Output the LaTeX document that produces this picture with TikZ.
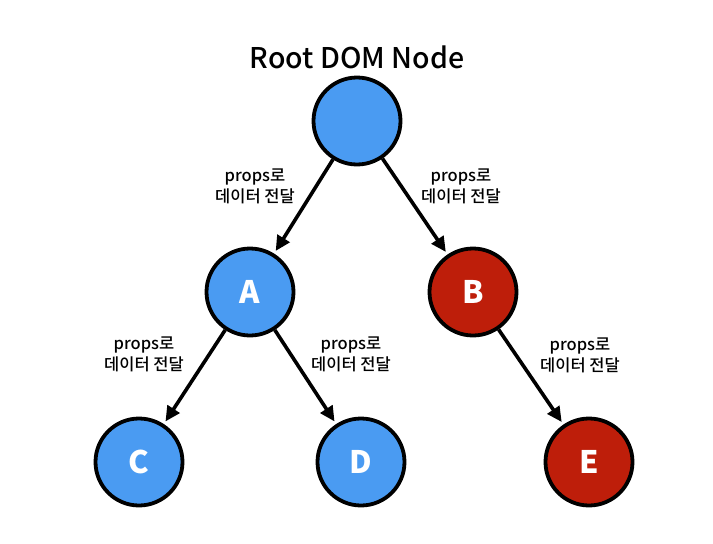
\documentclass[tikz,border=0pt]{standalone}
\usepackage{fontspec}
\setmainfont{Noto Sans CJK KR}
\newfontfamily\medfont{Noto Sans CJK KR Medium}
\usetikzlibrary{arrows.meta}
\definecolor{nodeblue}{HTML}{4A9BF2}
\definecolor{nodered}{HTML}{BE1E0A}
\tikzset{
  treenode/.style={circle, draw=black, line width=3.8pt, minimum size=87pt, inner sep=0pt,
    text=white, font=\fontsize{31}{31}\selectfont\bfseries},
  bluenode/.style={treenode, fill=nodeblue},
  rednode/.style={treenode, fill=nodered},
  edge/.style={-{Triangle[length=15pt,width=14pt]}, line width=3.6pt, shorten >=3pt, shorten <=0pt},
  lbl/.style={font=\medfont\fontsize{16.5}{21}\selectfont, align=center, text=black}
}
\begin{document}
\begin{tikzpicture}[x=1pt,y=-1pt]
\useasboundingbox (0,0) rectangle (713,544);
\node[font=\medfont\fontsize{28.5}{30}\selectfont] (title) at (357,57) {Root DOM Node};
\node[bluenode] (root) at (357,121) {};
\node[bluenode] (A) at (250,292) {A};
\node[rednode] (B) at (473,292) {B};
\node[bluenode] (C) at (139,462) {C};
\node[bluenode] (D) at (361,462) {D};
\node[rednode] (E) at (589,462) {E};
\draw[edge] (root) -- (A);
\draw[edge] (root) -- (B);
\draw[edge] (A) -- (C);
\draw[edge] (A) -- (D);
\draw[edge] (B) -- (E);
\node[lbl] (l1) at (255,186) {props로\\데이터 전달};
\node[lbl] (l2) at (461,186) {props로\\데이터 전달};
\node[lbl] (l3) at (144,354) {props로\\데이터 전달};
\node[lbl] (l4) at (351,354) {props로\\데이터 전달};
\node[lbl] (l5) at (580,355) {props로\\데이터 전달};
\end{tikzpicture}
\end{document}
